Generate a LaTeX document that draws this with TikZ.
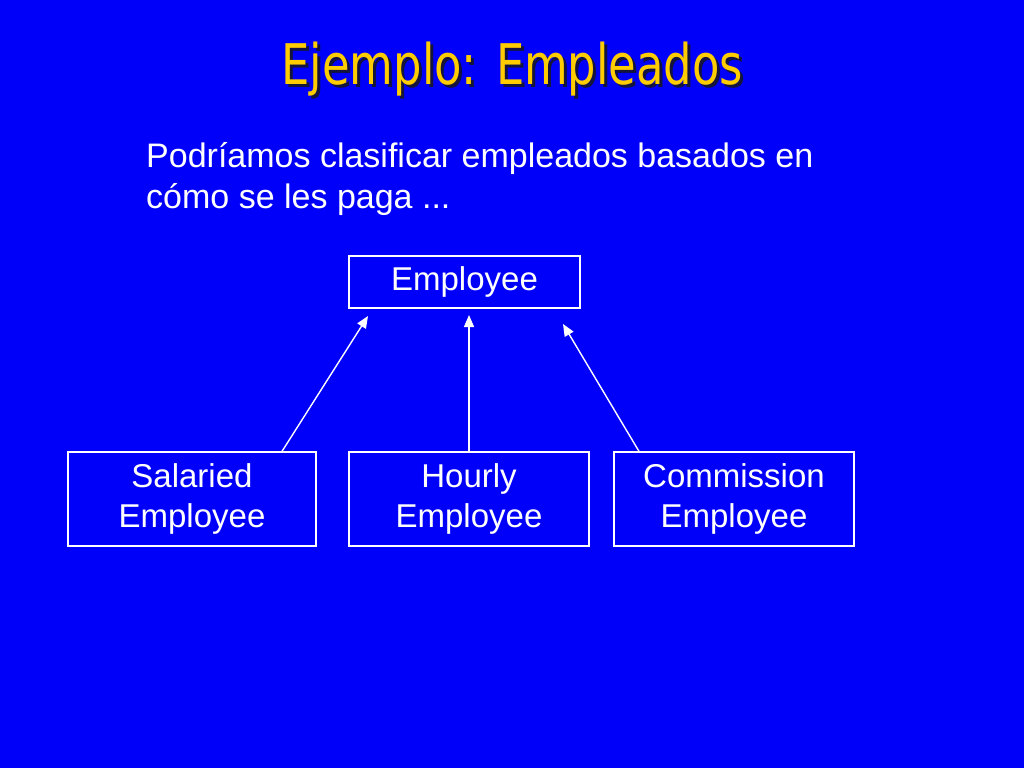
\documentclass[tikz,border=0pt]{standalone}
\usepackage{fontspec}
\setmainfont{Liberation Sans}
\newfontfamily\titlefont{DejaVu Sans Condensed}
\usetikzlibrary{arrows.meta}
\definecolor{bg}{RGB}{0,0,250}
\definecolor{ttl}{RGB}{255,204,0}
\definecolor{shd}{RGB}{20,20,60}
\begin{document}
\begin{tikzpicture}[x=1pt,y=-1pt,
  box/.style={draw=white,line width=1.3pt,inner sep=0pt,text=white,align=center,
    font=\fontsize{33}{40}\selectfont},
  body/.style={anchor=base west,text=white,inner sep=0pt,font=\fontsize{34}{40}\selectfont},
  ttlstyle/.style={anchor=base,inner sep=0pt,xscale=0.89,font=\titlefont\fontsize{56}{60}\selectfont},
  link/.style={draw=white,line width=1.4pt,-{Triangle[length=12pt,width=10pt]}}]
\fill[bg] (0,0) rectangle (1024,768);
\useasboundingbox (0,0) rectangle (1024,768);
% title
\node[ttlstyle,text=shd] (tshadow) at (515.5,87.5) {Ejemplo: Empleados};
\node[ttlstyle,text=ttl] (title) at (512.5,84.5) {Ejemplo: Empleados};
% body text
\node[body] (l1) at (146,167) {Podríamos clasificar empleados basados en};
\node[body] (l2) at (146,208) {cómo se les paga ...};
% boxes
\node[box,minimum width=231pt,minimum height=52pt] (emp) at (464.5,282) {Employee};
\node[box,minimum width=248pt,minimum height=94pt] (sal) at (192,499) {Salaried\\Employee};
\node[box,minimum width=240pt,minimum height=94pt] (hou) at (469,499) {Hourly\\Employee};
\node[box,minimum width=240pt,minimum height=94pt] (com) at (734,499) {Commission\\Employee};
% connectors
\coordinate (t1) at (368,316);
\coordinate (t2) at (469,315);
\coordinate (t3) at (563,324);
\draw[link] (sal.north -| 282,0) -- (t1);
\draw[link] (hou.north) -- (t2);
\draw[link] (com.north -| 639,0) -- (t3);
\end{tikzpicture}
\end{document}
